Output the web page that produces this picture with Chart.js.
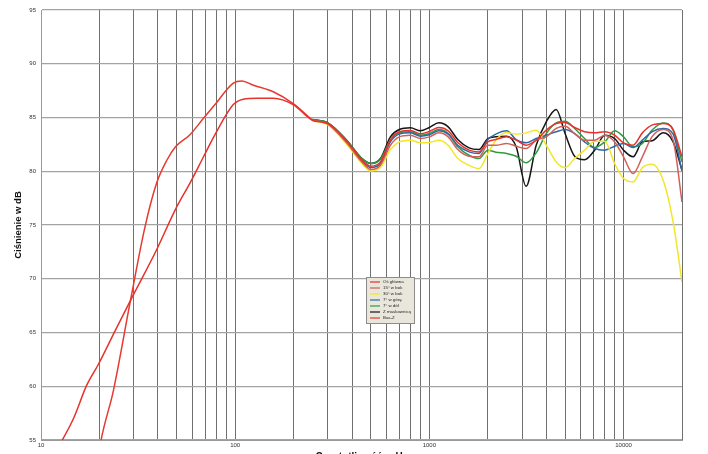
<!DOCTYPE html>
<html>
<head>
<meta charset="utf-8">
<script src="https://cdn.jsdelivr.net/npm/chart.js@4"></script>
<style>
  html, body { margin: 0; padding: 0; background: #fff; }
  canvas { display: block; }
</style>
</head>
<body>
<canvas id="fr" width="708" height="454"></canvas>
<script>
// x grid (Hz) and which ones get a label
const gridFreqs = [10, 20, 30, 40, 50, 60, 70, 80, 90, 100, 200, 300, 400, 500, 600, 700, 800, 900,
    1000, 2000, 3000, 4000, 5000, 6000, 7000, 8000, 9000, 10000, 20000];
const labeledFreqs = [10, 100, 1000, 10000];

// low range of the main axis curve
const mainLowFreq = [12, 14.7, 17.2, 19.7, 24, 29.3, 39.4, 49.4, 58.5, 68.5, 78.7, 97.8, 110, 130, 157, 199];
const mainLowDb = [54.0, 57.0, 60.1, 62.0, 65.1, 68.2, 72.7, 76.5, 78.9, 81.3, 83.4, 86.2, 86.7, 86.8, 86.8, 86.2];

// Bas-Z, ends where the measured curves start
const bassFreq = [19.8, 20.4, 23.6, 28.7, 34.3, 39.4, 44.4, 49.4, 58.5, 68.5, 78.7, 97.8, 108, 124, 157, 199, 250];
const bassDb = [53.5, 55.0, 59.6, 67.7, 74.8, 78.9, 81.0, 82.3, 83.4, 84.9, 86.2, 88.2, 88.4, 88.0, 87.4, 86.3, 84.75];

// measured curves from 250 Hz up
const hfFreq = [250, 300, 375, 450, 500, 560, 630, 700, 800, 900, 1000, 1120, 1250, 1400, 1600, 1800, 2000,
    2200, 2500, 2800, 3150, 3550, 4000, 4500, 5000, 5600, 6300, 7100, 8000, 9000, 10000, 11200, 12500,
    14000, 16000, 18000, 20000];
const mainHfDb = [84.75, 84.44, 82.80, 81.07, 80.47, 80.87, 82.89, 83.67, 83.79, 83.48, 83.70, 84.07, 83.76,
    82.67, 81.96, 81.80, 82.73, 82.95, 83.20, 82.89, 82.42, 82.89, 83.82, 84.44, 84.53, 84.07, 83.67, 83.57,
    83.67, 83.35, 82.64, 82.42, 83.57, 84.29, 84.44, 83.88, 81.34];
const side15Db = [84.75, 84.38, 82.64, 80.84, 80.16, 80.56, 82.42, 83.20, 83.35, 83.04, 83.20, 83.57, 83.20,
    82.02, 81.40, 81.34, 82.42, 82.42, 82.58, 82.33, 82.11, 82.89, 83.20, 83.98, 84.19, 83.51, 82.89, 82.89,
    83.35, 82.73, 81.34, 79.78, 81.34, 83.20, 83.88, 82.89, 77.14];
const side30Db = [84.69, 84.32, 82.52, 80.72, 80.03, 80.34, 82.02, 82.73, 82.89, 82.64, 82.67, 82.89, 82.42,
    81.18, 80.56, 80.25, 81.65, 82.89, 83.60, 83.45, 83.57, 83.82, 82.42, 80.87, 80.34, 81.18, 81.96, 82.80,
    82.80, 80.72, 79.32, 79.01, 80.34, 80.65, 79.16, 75.28, 69.69];
const upDb = [84.75, 84.41, 82.73, 80.96, 80.34, 80.72, 82.73, 83.45, 83.57, 83.26, 83.39, 83.76, 83.45,
    82.42, 81.80, 81.65, 82.95, 83.45, 83.76, 82.95, 82.64, 83.04, 83.35, 83.67, 83.88, 83.51, 82.73, 82.11,
    81.96, 82.33, 82.58, 82.21, 82.89, 83.67, 83.98, 83.45, 80.03];
const downDb = [84.81, 84.50, 82.89, 81.18, 80.72, 81.12, 82.89, 83.57, 83.67, 83.35, 83.51, 83.88, 83.51,
    82.27, 81.49, 81.18, 81.96, 81.77, 81.65, 81.40, 80.78, 81.71, 83.51, 84.50, 84.66, 83.98, 83.04, 82.21,
    82.73, 83.76, 83.20, 82.27, 82.58, 83.82, 84.50, 83.82, 80.87];
const grilleDb = [84.81, 84.50, 82.89, 81.18, 80.72, 81.18, 83.20, 83.88, 84.04, 83.76, 84.07, 84.50, 84.13,
    82.95, 82.17, 82.02, 83.04, 83.20, 83.26, 82.27, 78.60, 82.42, 84.60, 85.75, 83.51, 81.40, 81.07, 81.96,
    83.35, 83.04, 81.96, 81.34, 82.73, 82.83, 83.57, 82.73, 80.09];

const fontFamily = '"Liberation Sans", Arial, sans-serif';

function pts(freqs, dbs) {
    return freqs.map((f, i) => ({ x: f, y: dbs[i] }));
}

// small boxed legend in the middle of the plot
const legendBox = {
    id: 'legendBox',
    afterDraw(chart) {
        const c = chart.ctx;
        c.save();
        c.fillStyle = '#e9e7dc';
        c.strokeStyle = '#8c8c8c';
        c.lineWidth = 1;
        c.fillRect(366.5, 277.5, 48, 46);
        c.strokeRect(366.5, 277.5, 48, 46);
        c.font = '4.4px ' + fontFamily;
        c.textBaseline = 'middle';
        chart.data.datasets.forEach((ds, i) => {
            const ly = 282 + i * 6;
            c.strokeStyle = ds.borderColor;
            c.lineWidth = 1.2;
            c.beginPath();
            c.moveTo(370, ly);
            c.lineTo(380, ly);
            c.stroke();
            c.fillStyle = '#222';
            c.fillText(ds.label, 383, ly);
        });
        c.restore();
    }
};

new Chart(document.getElementById('fr'), {
    type: 'line',
    data: {
        datasets: [
            { label: 'Oś główna', data: pts(mainLowFreq.concat(hfFreq), mainLowDb.concat(mainHfDb)), borderColor: '#e8312b' },
            { label: '15° w bok', data: pts(hfFreq, side15Db), borderColor: '#d0605a' },
            { label: '30° w bok', data: pts(hfFreq, side30Db), borderColor: '#f3e62a' },
            { label: '7° w górę', data: pts(hfFreq, upDb), borderColor: '#2f68a6' },
            { label: '7° w dół', data: pts(hfFreq, downDb), borderColor: '#2f9a40' },
            { label: 'Z maskownicą', data: pts(hfFreq, grilleDb), borderColor: '#151515' },
            { label: 'Bas-Z', data: pts(bassFreq, bassDb), borderColor: '#e63a30' }
        ]
    },
    options: {
        responsive: false,
        animation: false,
        layout: { padding: { top: 10, right: 26, left: 0, bottom: 0 } },
        elements: {
            point: { radius: 0 },
            line: { borderWidth: 1.5, cubicInterpolationMode: 'monotone', fill: false }
        },
        plugins: { legend: { display: false }, tooltip: { enabled: false } },
        scales: {
            x: {
                type: 'logarithmic',
                min: 10,
                max: 20000,
                afterBuildTicks: (s) => { s.ticks = gridFreqs.map(v => ({ value: v })); },
                afterFit: (s) => { s.height = 14; },
                grid: { color: '#707070', lineWidth: 1, drawTicks: false },
                border: { color: '#9a9a9a' },
                ticks: {
                    autoSkip: false, maxRotation: 0, padding: 2, color: '#333',
                    font: { family: fontFamily, size: 6 },
                    callback: (v) => labeledFreqs.includes(v) ? String(v) : ''
                },
                title: {
                    display: true, text: 'Częstotliwość w Hz', color: '#111',
                    font: { family: fontFamily, size: 10, weight: 'bold' },
                    padding: { top: 0, bottom: -9 }
                }
            },
            y: {
                min: 55,
                max: 95,
                afterFit: (s) => { s.width = 41; },
                grid: { color: '#a3a3a3', lineWidth: 1.2, drawTicks: false },
                border: { color: '#9a9a9a' },
                ticks: {
                    stepSize: 5, padding: 5, color: '#333',
                    font: { family: fontFamily, size: 6 }
                },
                title: {
                    display: true, text: 'Ciśnienie w dB', color: '#111',
                    font: { family: fontFamily, size: 9.5, weight: 'bold' },
                    padding: { top: 13, bottom: 0 }
                }
            }
        }
    },
    plugins: [legendBox]
});
</script>
</body>
</html>
